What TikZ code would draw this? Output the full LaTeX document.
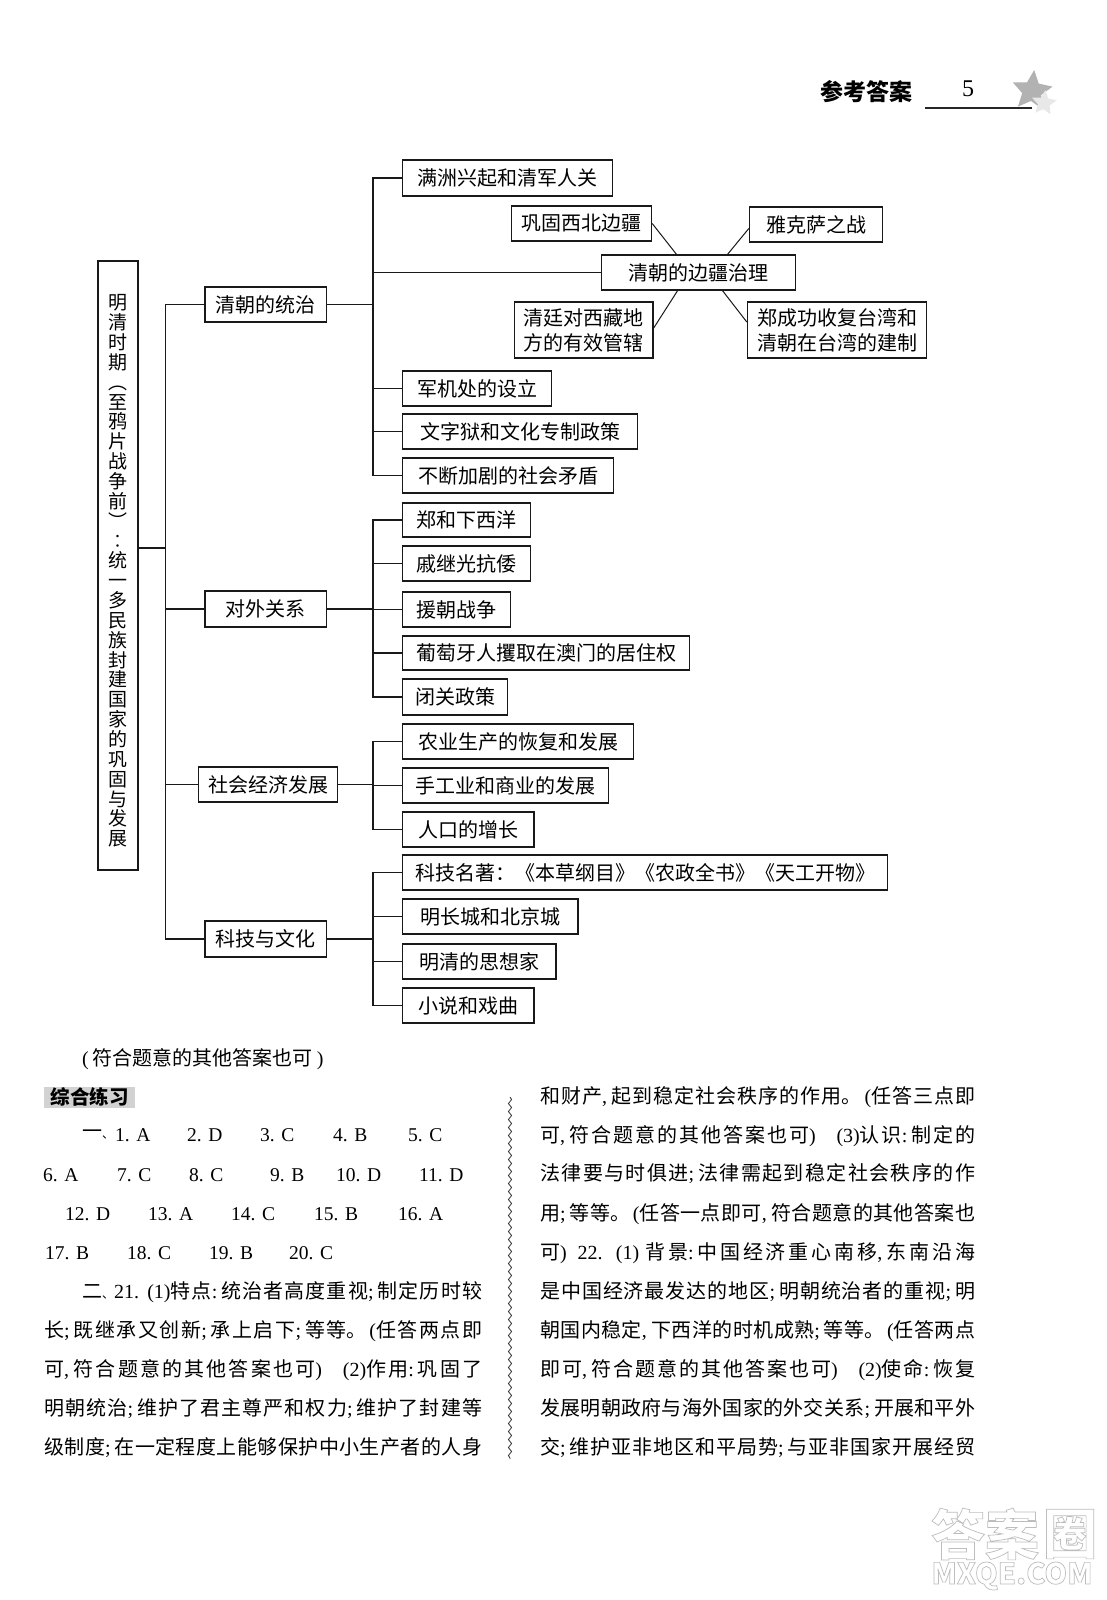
\documentclass[tikz,border=0pt]{standalone}
\usepackage{fontspec}
\setmainfont{Noto Sans CJK SC}
\newfontfamily\lat{Liberation Serif}
\usetikzlibrary{shapes.geometric,decorations.pathmorphing}
\newcommand{\en}[1]{{\lat #1}}
\newcommand{\pc}[1]{{\lat\makebox[9.5pt][l]{#1}}}
\newcommand{\lp}{{\lat\makebox[9.5pt][r]{(}}}
\newcommand{\rp}{{\lat\makebox[9.5pt][l]{)}}}
\newcommand{\jl}[2]{\parbox{#1pt}{\XeTeXlinebreaklocale "zh"\XeTeXlinebreakskip=0pt plus 6pt minus 1pt\parfillskip=0pt\noindent #2}}
\newcommand{\outl}[1]{\special{pdf:code q 1 Tr 0.7 w 0.74 G}#1\special{pdf:code Q}}
\newcommand{\smdun}{{\fontsize{12}{12}\selectfont 、}}
\tikzset{
  x=1pt,y=-1pt,
  box/.style={draw=black!90,line width=1.4pt,inner sep=0pt,align=center,font=\fontsize{20}{25}\selectfont,fill=white,execute at begin node={\vspace*{3pt}}},
  conn/.style={draw=black!90,line width=1.4pt,line join=miter},
  thin conn/.style={draw=black!90,line width=1pt},
  bodyline/.style={anchor=west,inner sep=0pt,font=\fontsize{20}{24}\selectfont},
  answer/.style={anchor=west,inner sep=0pt,font=\lat\fontsize{19.5}{24}\selectfont},
  wm/.style={inner sep=0pt,font=\bfseries\fontsize{54}{54}\selectfont},
  wmsmall/.style={inner sep=0pt,font=\bfseries\fontsize{29}{29}\selectfont},
}
\newcommand{\bx}[6]{\node[box,minimum width={#4pt-#2pt},minimum height={#5pt-#3pt}] (#1) at ({(#2+#4)/2},{(#3+#5)/2}) {#6};}
\newcommand{\lf}[6]{\node[box,minimum width={#4pt-#2pt},minimum height={#5pt-#3pt}] (#1) at ({(#2+#4)/2-2.5},{(#3+#5)/2}) {#6};}
\newcommand{\ml}[6]{\node[box,minimum width={#4pt-#2pt},minimum height={#5pt-#3pt}] (#1) at ({(#2+#4)/2-1},{(#3+#5)/2}) {#6};}
\begin{document}
\begin{tikzpicture}
\useasboundingbox (0,0) rectangle (1106,1600);
\fill[white] (0,0) rectangle (1106,1600);
% header
\node[inner sep=0pt,font=\bfseries\fontsize{23}{23}\selectfont] (head) at (866,92) {参考答案};
\node[inner sep=0pt,font=\lat\fontsize{24}{24}\selectfont] (pageno) at (968,89) {5};
\coordinate (ruleL) at (925,108);
\coordinate (ruleR) at (1032,108);
\draw[black!85,line width=1.2pt] (ruleL) -- (ruleR);
\node[star,star points=5,star point ratio=2.1,fill=gray!60,inner sep=0pt,minimum size=42pt,rotate=-6] (bigstar) at (1032,91) {};
\node[star,star points=5,star point ratio=2.1,fill=gray!18,inner sep=0pt,minimum size=26pt,rotate=-6] (smallstar) at (1044,103) {};
% root
\bx{root}{98}{261}{138}{870}{}
\node[inner sep=0pt,align=center,font=\fontsize{19}{19.85}\selectfont] (roottext) at (118,571) {明\\清\\时\\期\\︵\\至\\鸦\\片\\战\\争\\前\\︶\\︰\\统\\一\\多\\民\\族\\封\\建\\国\\家\\的\\巩\\固\\与\\发\\展};
% level 1
\ml{a}{206}{287}{327.5}{322}{清朝的统治}
\ml{b}{206}{591}{327.5}{627}{对外关系}
\ml{c}{199.6}{767}{338.5}{802}{社会经济发展}
\ml{d}{206}{921}{327.5}{957}{科技与文化}
% group a
\lf{a1}{405}{160}{615}{196}{满洲兴起和清军人关}
\lf{bj}{604}{255}{798}{290}{清朝的边疆治理}
\lf{bj1}{514}{206}{654}{241}{巩固西北边疆}
\lf{bj2}{752}{207}{885}{242}{雅克萨之战}
\lf{bj3}{517}{302}{655.5}{358}{清廷对西藏地\\方的有效管辖}
\lf{bj4}{750}{302}{929}{358}{郑成功收复台湾和\\清朝在台湾的建制}
\lf{a3}{405}{371}{554}{406}{军机处的设立}
\lf{a4}{405}{414}{640}{449}{文字狱和文化专制政策}
\lf{a5}{405}{458}{616}{493}{不断加剧的社会矛盾}
% group b
\lf{b1}{405}{503}{533}{537}{郑和下西洋}
\lf{b2}{405}{546}{533}{581}{戚继光抗倭}
\lf{b3}{405}{592}{513}{627}{援朝战争}
\lf{b4}{405}{636}{692}{670}{葡萄牙人攫取在澳门的居住权}
\lf{b5}{405}{679}{510}{715}{闭关政策}
% group c
\lf{c1}{405}{724}{636}{759}{农业生产的恢复和发展}
\lf{c2}{405}{768}{611}{803}{手工业和商业的发展}
\lf{c3}{405}{812}{536.5}{847}{人口的增长}
% group d
\lf{d1}{405}{855}{890}{890}{科技名著：《本草纲目》《农政全书》《天工开物》}
\lf{d2}{405}{899}{580.5}{934}{明长城和北京城}
\lf{d3}{405}{944}{558.5}{979}{明清的思想家}
\lf{d4}{405}{988}{536.5}{1023}{小说和戏曲}
% spine
\coordinate (spine) at (165.5,0);
\coordinate (bus) at (373,0);
\draw[conn] (a.west) -- (a.west -| spine) -- (d.west -| spine) -- (d.west);
\draw[conn] (b.west) -- (b.west -| spine);
\draw[conn] (c.west) -- (c.west -| spine);
\path (root.east |- 0,548) coordinate (rootout);
\draw[conn] (rootout) -- (rootout -| spine);
% buses
\draw[conn] (a1.west) -- (a1.west -| bus) -- (a5.west -| bus) -- (a5.west);
\draw[conn] (a.east) -- (a.east -| bus);
\draw[conn] (bj.west) -- (bj.west -| bus);
\draw[conn] (a3.west) -- (a3.west -| bus);
\draw[conn] (a4.west) -- (a4.west -| bus);
\draw[conn] (b1.west) -- (b1.west -| bus) -- (b5.west -| bus) -- (b5.west);
\draw[conn] (b.east) -- (b.east -| bus);
\draw[conn] (b3.west) -- (b3.west -| bus);
\draw[conn] (b2.west) -- (b2.west -| bus);
\draw[conn] (b4.west) -- (b4.west -| bus);
\draw[conn] (c1.west) -- (c1.west -| bus) -- (c3.west -| bus) -- (c3.west);
\draw[conn] (c.east) -- (c.east -| bus);
\draw[conn] (c2.west) -- (c2.west -| bus);
\draw[conn] (d1.west) -- (d1.west -| bus) -- (d4.west -| bus) -- (d4.west);
\draw[conn] (d.east) -- (d.east -| bus);
\draw[conn] (d2.west) -- (d2.west -| bus);
\draw[conn] (d3.west) -- (d3.west -| bus);
% spokes
\coordinate (s1) at (677,255);
\coordinate (s2) at (727,255);
\coordinate (s3) at (678,290);
\coordinate (s4) at (722,290);
\draw[thin conn] (bj1.east) -- (s1);
\draw[thin conn] ([yshift=-4pt]bj2.west) -- (s2);
\draw[thin conn] ([yshift=2pt]bj3.east) -- (s3);
\draw[thin conn] ([yshift=8pt]bj4.west) -- (s4);
% note and heading
\node[bodyline] (note) at (82,1059) {\en{(}\hspace{4pt}符合题意的其他答案也可\hspace{4pt}\en{)}};
\node[fill=gray!35,inner sep=0pt,minimum width=91pt,minimum height=21pt,font=\bfseries\fontsize{19.5}{24}\selectfont] (zh) at (89.5,1097) {综合练习};
% answers
\node[bodyline] (yi) at (82,1135) {一\smdun};
\foreach \px/\py/\t [count=\i] in {115/1135/1. A,187/1135/2. D,260/1135/3. C,333/1135/4. B,408/1135/5. C,
  43/1175/6. A,117/1175/7. C,189/1175/8. C,270/1175/9. B,336/1175/10. D,419/1175/11. D,
  65/1214/12. D,148/1214/13. A,231/1214/14. C,314/1214/15. B,398/1214/16. A,
  45/1253/17. B,127/1253/18. C,209/1253/19. B,289/1253/20. C}
  \node[answer] (ans\i) at (\px,\py) {\t};
% left column
\node[bodyline] (l1) at (82,1292) {\jl{400}{二\smdun\en{21. }\en{(1)}特点\pc{:}统治者高度重视\pc{;}制定历时较}};
\node[bodyline] (l2) at (44,1331.5) {\jl{438}{长\pc{;}既继承又创新\pc{;}承上启下\pc{;}等等。\lp 任答两点即}};
\node[bodyline] (l3) at (44,1370) {\jl{438}{可\pc{,}符合题意的其他答案也可\rp\hspace{18pt}\en{(2)}作用\pc{:}巩固了}};
\node[bodyline] (l4) at (44,1409) {\jl{438}{明朝统治\pc{;}维护了君主尊严和权力\pc{;}维护了封建等}};
\node[bodyline] (l5) at (44,1448) {\jl{438}{级制度\pc{;}在一定程度上能够保护中小生产者的人身}};
% divider
\coordinate (divT) at (510,1097);
\coordinate (divB) at (510,1459);
\draw[black!80,line width=0.8pt,decorate,decoration={snake,amplitude=1.6pt,segment length=8pt}] (divT) -- (divB);
% right column
\node[bodyline] (r1) at (540,1097) {\jl{435}{和财产\pc{,}起到稳定社会秩序的作用。\lp 任答三点即}};
\node[bodyline] (r2) at (540,1136) {\jl{435}{可\pc{,}符合题意的其他答案也可\rp\hspace{18pt}\en{(3)}认识\pc{:}制定的}};
\node[bodyline] (r3) at (540,1174) {\jl{435}{法律要与时俱进\pc{;}法律需起到稳定社会秩序的作}};
\node[bodyline] (r4) at (540,1214) {\jl{435}{用\pc{;}等等。\lp 任答一点即可\pc{,}符合题意的其他答案也}};
\node[bodyline] (r5) at (540,1253) {\jl{435}{可\rp\hspace{8pt}\en{22.\hspace{3pt} (1)}\hspace{6pt}背景\pc{:}中国经济重心南移\pc{,}东南沿海}};
\node[bodyline] (r6) at (540,1292) {\jl{435}{是中国经济最发达的地区\pc{;}明朝统治者的重视\pc{;}明}};
\node[bodyline] (r7) at (540,1331.5) {\jl{435}{朝国内稳定\pc{,}下西洋的时机成熟\pc{;}等等。\lp 任答两点}};
\node[bodyline] (r8) at (540,1370) {\jl{435}{即可\pc{,}符合题意的其他答案也可\rp\hspace{18pt}\en{(2)}使命\pc{:}恢复}};
\node[bodyline] (r9) at (540,1409) {\jl{435}{发展明朝政府与海外国家的外交关系\pc{;}开展和平外}};
\node[bodyline] (r10) at (540,1448) {\jl{435}{交\pc{;}维护亚非地区和平局势\pc{;}与亚非国家开展经贸}};
% watermark
\node[wm] (wa) at (985,1534) {\outl{答案}};
\node[wm] (wb) at (1070,1534) {\outl{圈}};
\node[wmsmall] (wc) at (1012,1576) {\outl{MXQE.COM}};
\end{tikzpicture}
\end{document}
